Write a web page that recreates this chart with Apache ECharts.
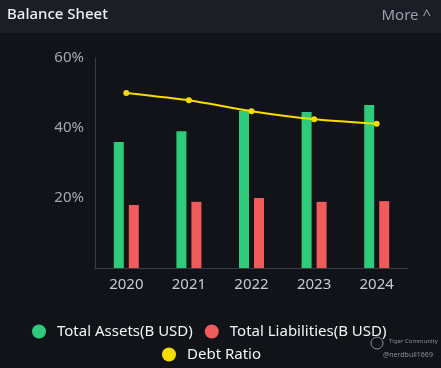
<!DOCTYPE html>
<html>
<head>
<meta charset="utf-8">
<script src="https://cdn.jsdelivr.net/npm/echarts@6/dist/echarts.min.js"></script>
<style>
html,body{margin:0;padding:0;background:#111318;}
#c{width:441px;height:368px;}
</style>
</head>
<body>
<div id="c"></div>
<script>
var years = ['2020', '2021', '2022', '2023', '2024'];
var totalAssets = [36.0, 39.1, 44.9, 44.6, 46.6];
var totalLiabilities = [18.0, 18.9, 20.0, 18.9, 19.1];
var debtRatio = [50.0, 47.9, 44.8, 42.5, 41.2];
var yTicks = [0, 20, 40, 60];

var chart = echarts.init(document.getElementById('c'));
var font = '"Noto Sans", "Open Sans", sans-serif';
chart.setOption({
  backgroundColor: '#111318',
  animation: false,
  graphic: [
    {type: 'rect', shape: {x: 0, y: 0, width: 441, height: 33}, style: {fill: '#1b1e25'}, z: -1},
    {type: 'text', left: 7, top: 7, style: {text: 'Balance Sheet', fill: '#eef0f4', font: '500 15px ' + font}},
    {type: 'text', right: 10, top: 8, style: {text: 'More ^', fill: '#9a9fb0', font: '15px ' + font}},
    {type: 'circle', shape: {cx: 377, cy: 343, r: 6}, style: {fill: 'none', stroke: '#8a8e98', lineWidth: 1}},
    {type: 'text', left: 389, top: 338, style: {text: 'Tiger Community', fill: '#8a8e98', font: '6px ' + font}},
    {type: 'text', left: 383, top: 351, style: {text: '@nerdbull1669', fill: '#8a8e98', font: '7px ' + font}}
  ],
  legend: [
    {
      data: ['Total Assets(B USD)', 'Total Liabilities(B USD)'],
      left: 27, top: 319, itemWidth: 14, itemHeight: 14, itemGap: 12, icon: 'circle',
      textStyle: {color: '#f2f4f8', fontSize: 15, fontFamily: font, padding: [0, 0, 0, 6]}
    },
    {
      data: ['Debt Ratio'],
      left: 157, top: 342, itemWidth: 14, itemHeight: 14, icon: 'circle',
      textStyle: {color: '#f2f4f8', fontSize: 15, fontFamily: font, padding: [0, 0, 0, 6]}
    }
  ],
  grid: {left: 95, right: 33, top: 58, bottom: 100},
  xAxis: {
    type: 'category', data: years,
    axisLine: {lineStyle: {color: '#3a3e4a'}},
    axisTick: {show: false},
    axisLabel: {color: '#c6cad4', fontSize: 15, fontFamily: font, margin: 9}
  },
  yAxis: {
    type: 'value', min: yTicks[0], max: yTicks[yTicks.length - 1], interval: 20,
    axisLine: {show: true, lineStyle: {color: '#3a3e4a'}},
    axisTick: {show: false},
    splitLine: {show: false},
    axisLabel: {
      color: '#a4a8b6', fontSize: 15, fontFamily: font, margin: 11,
      formatter: function (v) { return v === 0 ? '' : v + '%'; }
    }
  },
  series: [
    {name: 'Total Assets(B USD)', type: 'bar', data: totalAssets, barWidth: 10, barGap: '50%',
     itemStyle: {color: '#2ecb7b'}},
    {name: 'Total Liabilities(B USD)', type: 'bar', data: totalLiabilities, barWidth: 10,
     itemStyle: {color: '#f15b5b'}},
    {name: 'Debt Ratio', type: 'line', data: debtRatio, smooth: 0.2, symbol: 'circle', symbolSize: 6,
     lineStyle: {color: '#f7dc00', width: 2}, itemStyle: {color: '#f7dc00'}}
  ]
});
</script>
</body>
</html>
